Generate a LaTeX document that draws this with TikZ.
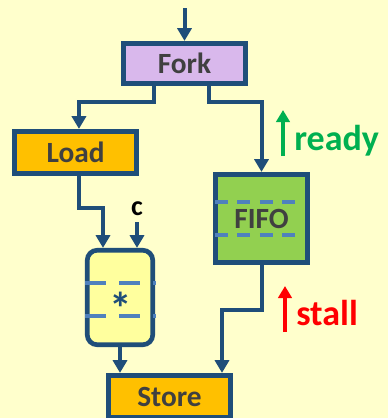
\documentclass[tikz,border=0pt]{standalone}
\usepackage{fontspec}
\setmainfont{Carlito}
\usetikzlibrary{arrows.meta}
\definecolor{bg}{HTML}{FFFFCC}
\definecolor{edgec}{HTML}{1F4E79}
\definecolor{dashc}{HTML}{4F81BD}
\definecolor{forkc}{HTML}{D9B8EC}
\definecolor{loadc}{HTML}{FFC000}
\definecolor{fifoc}{HTML}{92D050}
\definecolor{multc}{HTML}{FFFF9E}
\definecolor{txt}{HTML}{404040}
\definecolor{readyc}{HTML}{00B050}
\definecolor{stallc}{HTML}{FF0000}
\begin{document}
\begin{tikzpicture}[x=0.75pt,y=-0.75pt,
  box/.style={draw=edgec, line width=3.5pt, inner sep=0pt, text=txt,
    font=\fontsize{22}{22}\selectfont\bfseries},
  arr/.style={draw=edgec, line width=3pt, -{Triangle[width=10.5pt,length=9.5pt]}},
  sig/.style={line width=3.5pt, -{Triangle[width=10pt,length=9pt]}},
  sigtext/.style={anchor=base west, inner sep=0pt, font=\fontsize{27}{27}\selectfont\bfseries},
  dsh/.style={draw=dashc, line width=2.5pt}]
\useasboundingbox (0,0) rectangle (388,418);
\clip (0,0) rectangle (388,418);
\fill[bg] (0,0) rectangle (388,418);

% boxes
\node[box, fill=forkc, minimum width=91.9pt, minimum height=30.4pt] (fork) at (184.5,63.5) {Fork};
\node[box, fill=loadc, minimum width=91.9pt, minimum height=31.9pt] (load) at (75.5,152.5) {Load};
\node[box, fill=fifoc, minimum width=69.4pt, minimum height=66.4pt] (fifo) at (261.5,218.5) {FIFO};
\node[box, fill=multc, rounded corners=7.5pt, minimum width=49.1pt, minimum height=70.9pt] (mult) at (120,297.5) {};
\node[box, fill=loadc, minimum width=91.9pt, minimum height=31.9pt] (store) at (169.5,396.5) {Store};

% dashed register lines
\draw[dsh, dash pattern=on 9.75pt off 7.1pt] (215,202) -- (298,202);
\draw[dsh, dash pattern=on 9.75pt off 7.1pt] (215,235) -- (298,235);
\draw[dsh, line width=3pt, dash pattern=on 15.75pt off 9.75pt] (85,283) -- (156,283);
\draw[dsh, line width=3pt, dash pattern=on 15.75pt off 9.75pt] (85,316) -- (156,316);
\node[anchor=base, inner sep=0pt, text=edgec, font=\fontsize{34}{34}\selectfont\bfseries] (multlbl) at (121,324) {*};

% connectors
\coordinate (in) at (184.5,8);
\coordinate (f1) at (154,102);
\coordinate (f2) at (209,102);
\coordinate (l1) at (79,208);
\coordinate (l2) at (103,208);
\coordinate (cin) at (137,222);
\coordinate (s1) at (262,310);
\coordinate (s2) at (222,310);

\draw[arr] (in) -- (fork.north);
\draw[arr] (fork.south -| f1) -- (f1) -| ([xshift=2.6pt]load.north);
\draw[arr] (fork.south -| f2) -- (f2) -| (fifo.north);
\draw[arr] (load.south -| l1) |- (l2) -- (l2 |- mult.north);
\draw[arr] (cin) -- (cin |- mult.north);
\draw[arr] (mult.south) -- (mult.south |- store.north);
\draw[arr] (fifo.south -| s1) -- (s1) -- (s2) -- (s2 |- store.north);

\node[anchor=base, inner sep=0pt, font=\fontsize{21}{21}\selectfont\bfseries] (clbl) at (137,215) {c};

% ready / stall signals
\coordinate (r0) at (283,156);
\coordinate (r1) at (283,110);
\draw[sig, readyc] (r0) -- (r1);
\node[sigtext, text=readyc] (readylbl) at (294,150) {ready};
\coordinate (t0) at (285,332);
\coordinate (t1) at (285,286);
\draw[sig, stallc] (t0) -- (t1);
\node[sigtext, text=stallc] (stalllbl) at (296,325) {stall};
\end{tikzpicture}
\end{document}
